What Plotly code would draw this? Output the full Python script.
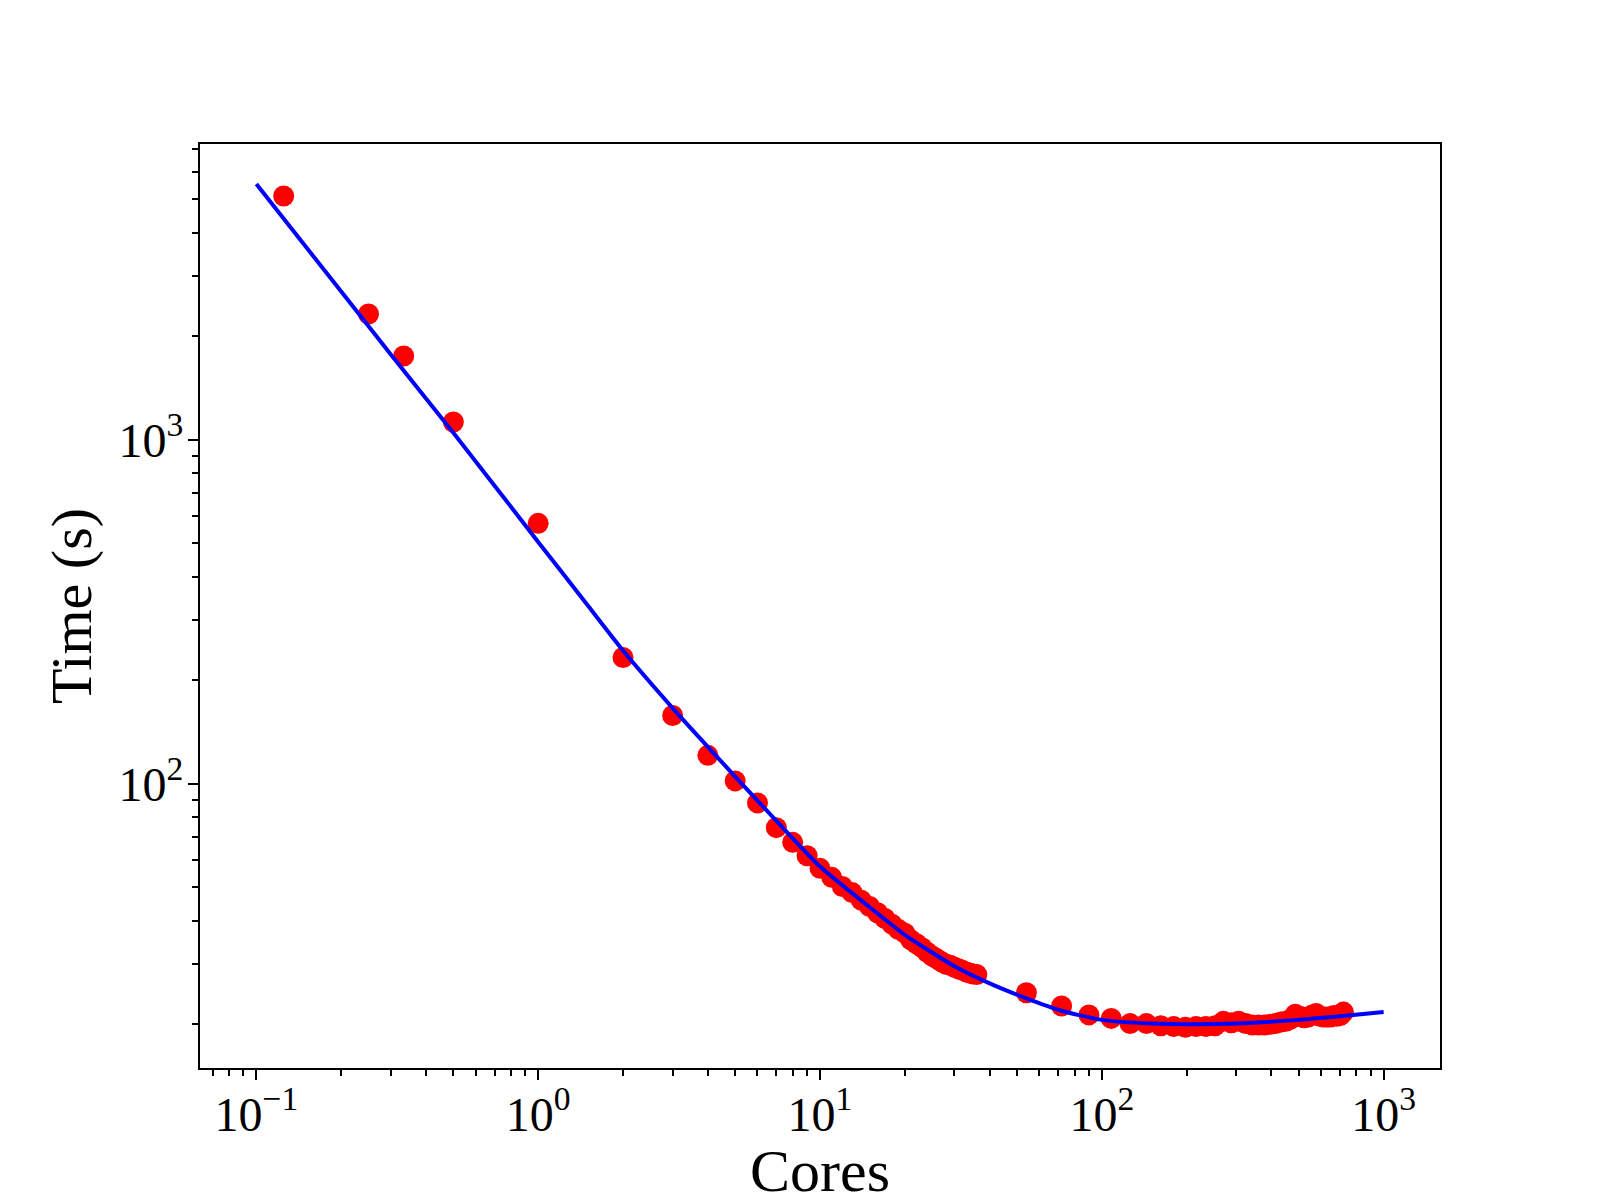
import plotly.graph_objects as go

# Measured points (cores, time in seconds)
cores = [0.125, 0.25, 0.3333, 0.5, 1, 2, 3, 4, 5, 6, 7, 8, 9, 10,
         11, 12, 13, 14, 15, 16, 17, 18, 19, 20, 21, 22, 23, 24, 25, 26, 27, 28, 29, 30,
         31, 32, 33, 34, 35, 36,
         54, 72, 90, 108,
         126, 144, 162, 180, 198, 216, 234, 252, 270, 288, 306, 324, 342, 360, 378, 396,
         414, 432, 450, 468, 486, 504, 522, 540, 558, 576, 594, 612, 630, 648, 666, 684,
         702, 720]
times = [5114, 2322, 1753, 1127, 572, 233, 158, 121, 102, 88, 74.6, 67.6, 61.8, 56.8,
         53.5, 50.3, 48.3, 45.9, 44.0, 42.2, 40.6, 39.1, 37.7, 36.8, 35.2, 34.3, 33.4, 32.4,
         31.6, 31.0, 30.4, 29.9, 29.7, 29.3, 29.0, 28.7, 28.4, 28.2, 28.0, 27.9,
         24.7, 22.6, 21.3, 20.8,
         20.1, 20.1, 19.8, 19.7, 19.6, 19.7, 19.7, 19.8, 20.4, 20.2, 20.4, 20.1, 19.9, 19.9,
         19.9, 20.0, 20.1, 20.3, 20.4, 20.7, 21.4, 21.1, 20.9, 21.0, 21.3, 21.5, 21.1, 21.0,
         21.0, 21.0, 21.2, 21.1, 21.2, 21.7]

# Fitted model curve
fit_cores = [0.1, 0.2, 0.3, 0.5, 1, 1.5, 2, 3, 5, 7, 10, 15, 20, 30, 40, 54, 72,
             100, 150, 220, 300, 500, 700, 1000]
fit_times = [5541, 2698, 1771, 1049, 505, 330, 244, 166, 105, 78.1, 57.5, 43.8, 36.4,
             29.5, 26.3, 23.8, 21.9, 20.6, 20.1, 20.0, 20.1, 20.6, 21.1, 21.7]

x_tickvals = [0.1, 1, 10, 100, 1000]
x_ticktext = ["10<sup>\u22121</sup>", "10<sup>0</sup>", "10<sup>1</sup>",
              "10<sup>2</sup>", "10<sup>3</sup>"]
y_tickvals = [100, 1000]
y_ticktext = ["10<sup>2</sup>", "10<sup>3</sup>"]
x_title = "Cores"
y_title = "Time (s)"

font_family = "Liberation Serif"

fig = go.Figure()
fig.add_trace(go.Scatter(
    x=cores, y=times, mode="markers",
    marker=dict(color="#ff0000", size=21, line=dict(width=0)),
    showlegend=False,
))
fig.add_trace(go.Scatter(
    x=fit_cores, y=fit_times, mode="lines",
    line=dict(color="#0000ff", width=4, shape="spline", smoothing=0.6),
    showlegend=False,
))

axis_common = dict(
    type="log",
    showgrid=False,
    zeroline=False,
    showline=True,
    linecolor="black",
    linewidth=2,
    mirror=True,
    ticks="outside",
    ticklen=10,
    tickwidth=2,
    tickcolor="black",
    tickfont=dict(family=font_family, size=48, color="black"),
    minor=dict(ticks="outside", ticklen=6, tickwidth=1.5, tickcolor="black",
               dtick="D1", showgrid=False),
)

fig.update_xaxes(
    **axis_common,
    range=[-1.2, 3.2],
    tickmode="array", tickvals=x_tickvals, ticktext=x_ticktext,
    ticklabelstandoff=-7,
)
fig.update_yaxes(
    **axis_common,
    range=[1.174, 3.860],
    tickmode="array", tickvals=y_tickvals, ticktext=y_ticktext,
    ticklabelstandoff=-5,
    title=dict(text=y_title, font=dict(family=font_family, size=58, color="black"),
               standoff=8),
)

# x-axis title as an annotation so it can sit at the very bottom edge
fig.add_annotation(
    text=x_title, xref="paper", yref="paper", x=0.5, y=0,
    xanchor="center", yanchor="top", yshift=-68, showarrow=False,
    font=dict(family=font_family, size=60, color="black"),
)

fig.update_layout(
    width=1592, height=1192,
    margin=dict(l=192, r=160, t=136, b=132, autoexpand=False),
    paper_bgcolor="white", plot_bgcolor="white",
    font=dict(family=font_family, color="black"),
)

fig.write_html("out.html")
